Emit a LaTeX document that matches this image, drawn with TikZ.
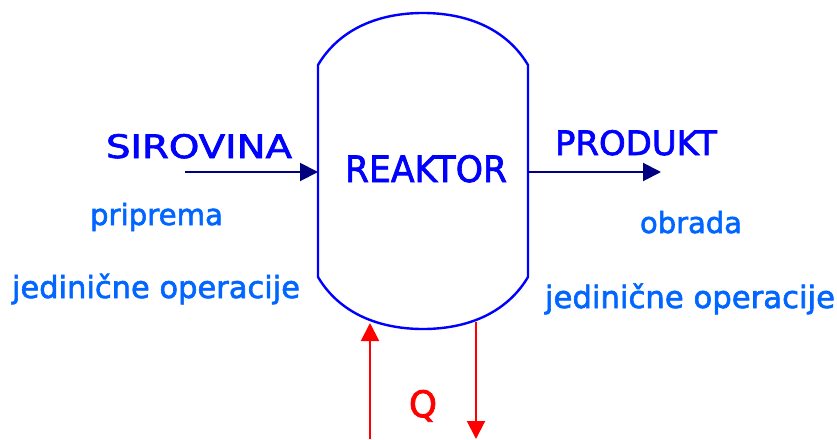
\documentclass[tikz,border=0pt]{standalone}
\usepackage{fontspec}
\setmainfont[FakeBold=2]{DejaVu Sans}
\usetikzlibrary{arrows.meta}
\definecolor{vblue}{RGB}{0,0,255}
\definecolor{lblue}{RGB}{0,102,255}
\definecolor{navyc}{RGB}{0,0,128}
\definecolor{redc}{RGB}{255,0,0}
\tikzset{
  vessel/.style={draw=vblue, line width=2.4pt},
  flow/.style={draw=navyc, line width=2pt, -{Triangle[length=18pt,width=18pt]}},
  heat/.style={draw=redc, line width=2pt, -{Triangle[length=18pt,width=18pt]}},
  biglabel/.style={text=vblue, font=\fontsize{30}{34}\selectfont, anchor=base, inner sep=0pt},
  smalllabel/.style={text=lblue, font=\fontsize{24}{28}\selectfont, anchor=base, inner sep=0pt},
  qlabel/.style={text=redc, font=\fontsize{32}{36}\selectfont, anchor=base, inner sep=0pt}
}
\begin{document}
\begin{tikzpicture}[x=1pt,y=-1pt]
\useasboundingbox (0,0) rectangle (837,439);
% vessel
\draw[vessel] (318,65) .. controls (340,28) and (380,13) .. (423,13)
  .. controls (466,13) and (506,28) .. (528,65) -- (528,277)
  .. controls (506,314) and (466,329) .. (423,329)
  .. controls (380,329) and (340,314) .. (318,277) -- cycle;
\coordinate (vin) at (318,172);
\coordinate (vout) at (528,172);
\coordinate (feed) at (185,172);
\coordinate (prod) at (661,172);
\coordinate (hinS) at (370,439);
\coordinate (hinE) at (370,323);
\coordinate (houtS) at (476,322);
\coordinate (houtE) at (476,439);
\node[biglabel] (reaktor) at (426,182) {\resizebox{162pt}{27pt}{REAKTOR}};
\node[biglabel] (sirovina) at (199,158) {\resizebox{186pt}{24pt}{SIROVINA}};
\node[biglabel] (produkt) at (636,155) {\resizebox{162pt}{25pt}{PRODUKT}};
\node[smalllabel] (priprema) at (156.5,225) {\resizebox{133pt}{!}{priprema}};
\node[smalllabel] (jedL) at (156,298) {\resizebox{288pt}{!}{jedinične operacije}};
\node[smalllabel] (obrada) at (691,233) {\resizebox{102pt}{!}{obrada}};
\node[smalllabel] (jedR) at (690,308) {\resizebox{290pt}{!}{jedinične operacije}};
\node[qlabel] (q) at (423,417) {\resizebox{28pt}{27pt}{Q}};
\draw[flow] (feed) -- (vin);
\draw[flow] (vout) -- (prod);
\draw[heat] (hinS) -- (hinE);
\draw[heat] (houtS) -- (houtE);
\end{tikzpicture}
\end{document}
